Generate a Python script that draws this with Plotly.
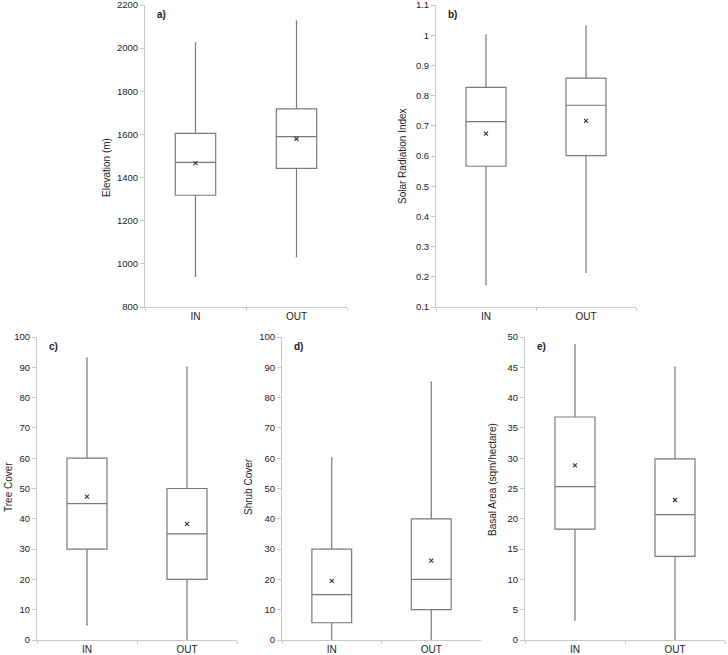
import plotly.graph_objects as go

# categorias
cats = ["IN", "OUT"]

# estatisticas: [IN, OUT]
elev_low = [943, 1033]
elev_q1 = [1318, 1443]
elev_med = [1470, 1590]
elev_q3 = [1605, 1718]
elev_high = [2025, 2125]
elev_mean = [1467, 1580]

sol_low = [0.175, 0.215]
sol_q1 = [0.566, 0.601]
sol_med = [0.714, 0.768]
sol_q3 = [0.827, 0.858]
sol_high = [1.0, 1.029]
sol_mean = [0.674, 0.716]

tree_low = [5, 0]
tree_q1 = [30, 20]
tree_med = [45, 35]
tree_q3 = [60, 50]
tree_high = [93, 90]
tree_mean = [47.3, 38.3]

shrub_low = [0, 0]
shrub_q1 = [5.7, 10]
shrub_med = [15, 20]
shrub_q3 = [30, 40]
shrub_high = [60, 85]
shrub_mean = [19.5, 26.2]

basal_low = [3.3, 0]
basal_q1 = [18.3, 13.8]
basal_med = [25.3, 20.7]
basal_q3 = [36.8, 29.9]
basal_high = [48.7, 45]
basal_mean = [28.8, 23.1]

W, H = 728, 655

def px_x(a, b):
    return [a / W, b / W]

def px_y(top, bottom):
    return [1 - bottom / H, 1 - top / H]

# tit_pos = posicao (px) do centro do titulo do eixo y
paineis = [
    dict(stats=(elev_low, elev_q1, elev_med, elev_q3, elev_high, elev_mean),
         titulo="Elevation (m)", letra="a)", rng=[800, 2200], dtick=200,
         dx=px_x(145, 347), dy=px_y(5, 307), tit_pos=(106, 168)),
    dict(stats=(sol_low, sol_q1, sol_med, sol_q3, sol_high, sol_mean),
         titulo="Solar Radiation Index", letra="b)", rng=[0.1, 1.1], dtick=0.1,
         dx=px_x(436, 636), dy=px_y(5, 307), tit_pos=(402, 156)),
    dict(stats=(tree_low, tree_q1, tree_med, tree_q3, tree_high, tree_mean),
         titulo="Tree Cover", letra="c)", rng=[0, 100], dtick=10,
         dx=px_x(37, 237), dy=px_y(337, 640), tit_pos=(8, 487)),
    dict(stats=(shrub_low, shrub_q1, shrub_med, shrub_q3, shrub_high, shrub_mean),
         titulo="Shrub Cover", letra="d)", rng=[0, 100], dtick=10,
         dx=px_x(282, 481), dy=px_y(337, 640), tit_pos=(248, 487)),
    dict(stats=(basal_low, basal_q1, basal_med, basal_q3, basal_high, basal_mean),
         titulo="Basal Area (sqm/hectare)", letra="e)", rng=[0, 50], dtick=5,
         dx=px_x(525, 725), dy=px_y(337, 640), tit_pos=(492, 480)),
]

fonte = "Liberation Sans, Arial, sans-serif"
fig = go.Figure()
layout = {}

for i, p in enumerate(paineis, start=1):
    low, q1, med, q3, high, mean = p["stats"]
    xa = "x" if i == 1 else f"x{i}"
    ya = "y" if i == 1 else f"y{i}"
    fig.add_trace(go.Box(
        x=cats, lowerfence=low, q1=q1, median=med, q3=q3, upperfence=high,
        xaxis=xa, yaxis=ya, width=0.4, whiskerwidth=0.04,
        fillcolor="white", line=dict(color="#7a7a7a", width=1.2),
        showlegend=False, hoverinfo="skip",
    ))
    fig.add_trace(go.Scatter(
        x=cats, y=mean, xaxis=xa, yaxis=ya, mode="markers",
        marker=dict(symbol="x-thin", size=4, line=dict(color="#333", width=1.1)),
        showlegend=False, hoverinfo="skip",
    ))
    layout[f"xaxis{'' if i == 1 else i}"] = dict(
        domain=p["dx"], anchor=ya, type="category", range=[-0.5, 1.5],
        showline=True, linecolor="#c8c8c8", linewidth=1,
        ticks="outside", tickson="boundaries", ticklen=3, tickcolor="#c8c8c8",
        showgrid=False, zeroline=False, automargin=False, ticklabeloverflow="allow",
        tickfont=dict(family=fonte, size=10, color="#222"),
    )
    layout[f"yaxis{'' if i == 1 else i}"] = dict(
        domain=p["dy"], anchor=xa, range=p["rng"], dtick=p["dtick"],
        showline=True, linecolor="#c8c8c8", linewidth=1,
        ticks="outside", ticklen=4, tickcolor="#c8c8c8",
        showgrid=False, zeroline=False, automargin=False, ticklabeloverflow="allow",
        tickfont=dict(family=fonte, size=9.5, color="#222"),
    )
    # titulo do eixo y como anotacao, para acertar a posicao
    tx, ty = p["tit_pos"]
    fig.add_annotation(
        x=tx / W, y=1 - ty / H, xref="paper", yref="paper", text=p["titulo"],
        textangle=-90, showarrow=False, xanchor="center", yanchor="middle",
        font=dict(family=fonte, size=10, color="#222"),
    )
    fig.add_annotation(
        x=p["dx"][0] + 10 / W, y=p["dy"][1] - 2 / H, xref="paper", yref="paper",
        text=f"<b>{p['letra']}</b>", showarrow=False, xanchor="left", yanchor="top",
        font=dict(family=fonte, size=10, color="#222"),
    )

fig.update_layout(
    **layout,
    width=W, height=H,
    margin=dict(l=0, r=0, t=0, b=0),
    paper_bgcolor="white", plot_bgcolor="white",
)

# tira a margem padrao do body para a figura ficar no canto
fig.write_html("out.html", config={"displayModeBar": False},
               post_script="document.body.style.margin='0';")
